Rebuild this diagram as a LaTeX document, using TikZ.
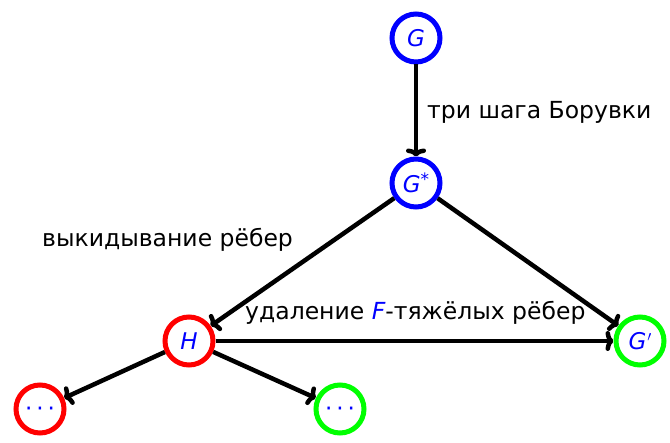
\documentclass[tikz,border=0pt]{standalone}
\usepackage{fontspec}
\setmainfont{DejaVu Sans}
\usetikzlibrary{arrows.meta}
\begin{document}
\begin{tikzpicture}[x=1pt,y=-1pt,
  vert/.style={circle,draw,line width=5pt,minimum size=48pt,inner sep=0pt,text=blue,font=\fontsize{23}{27}\selectfont\itshape},
  bl/.style={vert,draw=blue},
  rd/.style={vert,draw=red},
  gr/.style={vert,draw=green},
  conn/.style={line width=4.5pt,-{To[length=8pt,width=20pt]}},
  lbl/.style={font=\fontsize{23.5}{27}\selectfont,inner sep=0pt}]
\useasboundingbox (0,0) rectangle (670,443);
\node[bl] (G) at (416,38) {G};
\node[bl] (Gs) at (416,183) {G\raisebox{7pt}{\fontsize{17}{19}\selectfont\upshape *}};
\node[rd] (H) at (189,341) {H};
\node[gr] (Gp) at (640,341) {G\kern1pt\raisebox{8pt}{\upshape\fontsize{15}{17}\selectfont$\prime$}};
\node[rd] (L) at (40,409) {\raisebox{-8pt}[0pt][0pt]{\upshape ·\hspace{4pt}·\hspace{4pt}·}};
\node[gr] (R) at (340,409) {\raisebox{-8pt}[0pt][0pt]{\upshape ·\hspace{4pt}·\hspace{4pt}·}};
\draw[conn] (G) -- (Gs);
\draw[conn] (Gs) -- (H);
\draw[conn] (Gs) -- (Gp);
\draw[conn] (H) -- (Gp);
\draw[conn] (H) -- (L);
\draw[conn] (H) -- (R);
\node[lbl,anchor=west] (t1) at (427,112) {три шага Борувки};
\node[lbl,anchor=west] (t2) at (42,240) {выкидывание рёбер};
\node[lbl,anchor=west] (t3) at (245,313) {удаление {\itshape\color{blue}F}-тяжёлых рёбер};
\end{tikzpicture}
\end{document}
